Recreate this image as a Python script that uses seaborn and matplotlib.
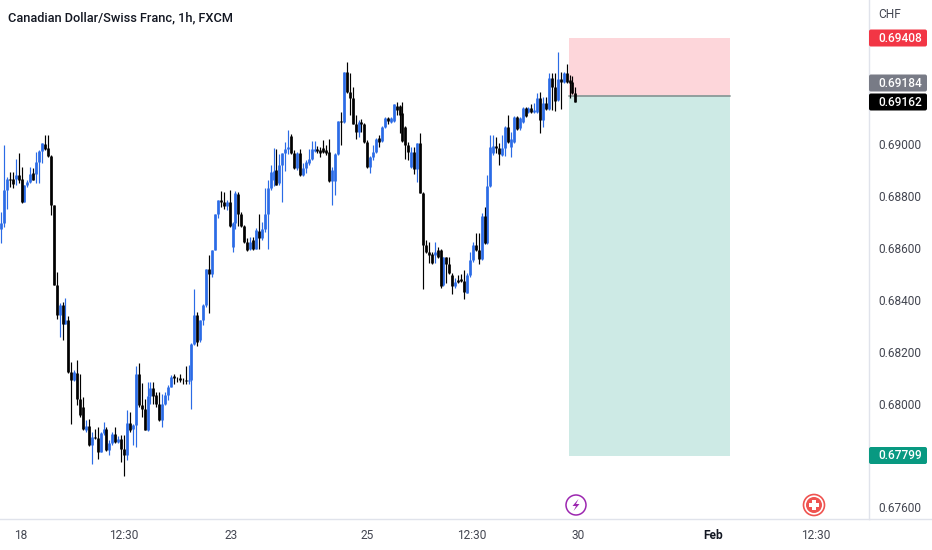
"""Candlestick chart of CAD/CHF with a short-position box."""

import matplotlib
matplotlib.use("Agg")
import matplotlib.pyplot as plt
from matplotlib.lines import Line2D
from matplotlib.patches import Circle, FancyBboxPatch, Polygon, Rectangle
import pandas as pd
import seaborn as sns

# hourly candles, prices in 1e-5 units
opens = [
    68674,68694,68822,68867,68867,68867,68880,68867,68777,68841,
    68854,68890,68886,68931,68974,69002,68983,68955,68764,68456,
    68340,68379,68308,68321,68122,68090,68119,68019,67987,67897,
    67912,67839,67871,67867,67813,67887,67903,67820,67848,67884,
    67852,67865,67826,67803,67925,67903,67916,68115,67993,67980,
    67899,68028,68058,68032,68000,67938,68000,68032,68064,68105,
    68100,68100,68092,68092,68088,68090,68231,68340,68244,68321,
    68379,68520,68501,68593,68732,68784,68777,68760,68777,68604,
    68694,68809,68732,68685,68623,68595,68630,68597,68664,68636,
    68671,68732,68829,68861,68899,68848,68919,68964,68979,69030,
    68964,68906,68964,68880,68906,68925,68944,68975,68979,68977,
    68983,68977,68970,68858,68858,68961,69090,69086,69278,69201,
    69176,69079,69047,69086,69079,69009,68910,68951,68970,69025,
    69012,69064,69099,69086,69090,69146,69146,69118,69066,68998,
    68912,68970,68902,69005,68812,68610,68585,68575,68572,68591,
    68590,68457,68563,68538,68495,68453,68476,68478,68473,68427,
    68495,68553,68611,68592,68556,68723,68617,68838,68964,68992,
    68983,68957,68983,69064,68990,69009,69103,69060,69086,69140,
    69125,69138,69125,69125,69176,69093,69159,69134,69253,69221,
    69170,69249,69240,69275,69247,69240,69195,
]
closes = [
    68694,68822,68867,68861,68845,68880,68863,68777,68841,68854,
    68886,68861,68931,68974,69005,68979,68955,68764,68456,68340,
    68379,68308,68321,68122,68090,68122,68019,67955,67903,67912,
    67839,67871,67867,67813,67887,67903,67820,67848,67884,67852,
    67865,67826,67803,67925,67897,67916,68115,67993,67980,67899,
    68028,68058,68028,68000,67938,68000,68032,68064,68103,68100,
    68099,68090,68090,68088,68092,68231,68340,68237,68321,68379,
    68520,68498,68593,68732,68784,68777,68760,68777,68683,68694,
    68812,68732,68685,68623,68591,68623,68595,68668,68636,68671,
    68732,68829,68893,68897,68844,68919,68964,68979,68990,68964,
    68906,68964,68880,68906,68932,68944,68979,68979,68973,68966,
    68970,68964,68858,68899,68961,69090,69086,69278,69201,69176,
    69079,69047,69086,69079,69009,68910,68951,68970,69021,69009,
    69064,69099,69090,69099,69154,69133,69111,69012,68998,68970,
    68970,68902,69005,68812,68610,68585,68572,68540,68585,68566,
    68454,68563,68538,68502,68453,68470,68470,68473,68431,68495,
    68553,68611,68592,68556,68723,68617,68838,68990,68992,68983,
    68962,68983,69064,69009,69020,69106,69057,69099,69138,69108,
    69138,69125,69131,69176,69093,69159,69134,69253,69221,69167,
    69249,69240,69275,69240,69237,69195,69163,
]
highs = [
    68739,68996,68874,68893,68893,68944,68964,68912,68841,68861,
    68910,68906,68970,68976,69005,69034,69034,68957,68764,68505,
    68388,68392,68405,68338,68160,68130,68167,68115,68025,67935,
    67942,67891,67903,67910,67891,67929,67910,67858,67891,67910,
    67875,67878,67878,67974,67968,67920,68144,68157,68081,68019,
    68083,68083,68083,68045,68045,68038,68045,68070,68109,68113,
    68103,68115,68100,68144,68148,68235,68441,68353,68321,68385,
    68520,68572,68593,68732,68786,68818,68816,68784,68822,68700,
    68818,68816,68739,68688,68636,68642,68640,68675,68732,68700,
    68829,68861,68919,68985,68979,68960,68964,69009,69054,69037,
    68977,68970,68979,68925,68938,68979,69012,69012,68992,68990,
    69015,68996,69021,68912,68964,69090,69122,69278,69317,69272,
    69221,69111,69092,69098,69082,69015,68953,68996,69025,69034,
    69069,69105,69105,69105,69156,69163,69150,69163,69069,69009,
    68989,68989,69005,69041,68816,68630,68623,68585,68623,68604,
    68597,68566,68566,68563,68502,68482,68495,68501,68515,68502,
    68585,68624,68656,68656,68733,68759,68881,69035,69035,69026,
    69005,69035,69070,69112,69045,69108,69108,69106,69142,69144,
    69144,69154,69157,69198,69202,69183,69183,69275,69275,69275,
    69356,69279,69279,69308,69266,69262,69221,
]
lows = [
    68617,68681,68751,68835,68829,68841,68848,68773,68777,68835,
    68848,68861,68848,68848,68925,68976,68951,68726,68456,68325,
    68257,68244,68306,68119,67923,68085,67993,67948,67897,67891,
    67835,67768,67865,67788,67813,67878,67817,67801,67839,67848,
    67848,67775,67720,67784,67891,67839,67833,67987,67948,67897,
    67894,68000,68000,67987,67932,67910,67993,68013,68064,68077,
    68083,68083,68077,68077,68077,67980,68225,68221,68237,68302,
    68372,68347,68488,68591,68713,68758,68751,68745,68681,68584,
    68674,68683,68681,68619,68588,68591,68591,68595,68597,68630,
    68662,68597,68822,68840,68842,68842,68777,68897,68960,68961,
    68902,68900,68876,68876,68887,68919,68938,68970,68964,68951,
    68966,68957,68854,68764,68803,68957,68996,69082,69198,69111,
    69077,69018,69028,69047,69005,68907,68887,68938,68964,68989,
    69009,69060,69079,69080,69086,69111,69041,69009,68944,68938,
    68906,68884,68854,68812,68443,68580,68540,68537,68540,68560,
    68447,68453,68463,68499,68422,68444,68463,68470,68401,68425,
    68489,68546,68589,68538,68553,68615,68615,68836,68958,68964,
    68919,68955,68952,69003,68951,69003,69054,69054,69082,69105,
    69118,69118,69121,69121,69041,69064,69131,69131,69131,69128,
    69167,69134,69236,69236,69176,69193,69161,
]

price_ticks = [0.69000, 0.68800, 0.68600, 0.68400, 0.68200, 0.68000, 0.67600]
time_ticks = [6.8, 42, 78.5, 125, 160.7, 197, 243, 278]
time_labels = ["18", "12:30", "23", "25", "12:30", "30", "Feb", "12:30"]

stop_price = 0.69408
entry_price = 0.69184
target_price = 0.67799
last_price = 0.69162
box_start, box_end = 193.9, 248.8

BLUE = "#2b6be6"
GRID = "#e0e3eb"
TEXT = "#434651"

frame = pd.DataFrame({"open": opens, "high": highs, "low": lows, "close": closes}) / 1e5
frame["bar"] = range(len(frame))
frame["dir"] = ["up" if c >= o else "down" for o, c in zip(frame["open"], frame["close"])]

wicks = frame.melt(id_vars=["bar", "dir"], value_vars=["high", "low"], value_name="price")
bodies = frame.melt(id_vars=["bar", "dir"], value_vars=["open", "close"], value_name="price")

sns.set_theme(style="white")
plt.rcParams["font.family"] = ["Roboto", "DejaVu Sans"]

fig = plt.figure(figsize=(9.32, 5.5), dpi=100, facecolor="white")
ax = fig.add_axes([0, 1 - 519 / 550, 869 / 932, 519 / 550])

# position tool goes under the candles
ax.add_patch(Rectangle((box_start, entry_price), box_end - box_start, stop_price - entry_price,
                       facecolor="#fdd6da", edgecolor="none", zorder=0))
ax.add_patch(Rectangle((box_start, target_price), box_end - box_start, entry_price - target_price,
                       facecolor="#cdeae5", edgecolor="none", zorder=0))
ax.plot([box_start, box_end], [entry_price, entry_price], color="#8a9a98", lw=1.3, zorder=1)

palette = {"up": BLUE, "down": "black"}
sns.lineplot(data=wicks, x="bar", y="price", hue="dir", units="bar", estimator=None, palette=palette,
             legend=False, lw=0.85, solid_capstyle="butt", ax=ax)
sns.lineplot(data=bodies, x="bar", y="price", hue="dir", units="bar", estimator=None, palette=palette,
             legend=False, lw=1.95, solid_capstyle="butt", ax=ax)

ax.set_xlim(-0.34, 296.2)
ax.set_ylim(0.67555, 0.69555)
ax.set_xlabel("")
ax.set_ylabel("")
ax.yaxis.tick_right()
ax.set_yticks(price_ticks, [f"{p:.5f}" for p in price_ticks])
ax.set_xticks(time_ticks, time_labels)
ax.tick_params(axis="y", length=0, pad=6.5, labelsize=8.6, colors=TEXT)
ax.tick_params(axis="x", length=0, pad=7.2, labelsize=8.6, colors=TEXT)
ax.get_xticklabels()[6].set_fontweight("bold")
ax.get_xticklabels()[6].set_color("#131722")
for side in ("top", "left"):
    ax.spines[side].set_visible(False)
for side in ("right", "bottom"):
    ax.spines[side].set_color(GRID)
    ax.spines[side].set_linewidth(1)

# overlay in pixel coordinates for the title, price flags and event icons
over = fig.add_axes([0, 0, 1, 1], facecolor="none")
over.set_xlim(0, 932)
over.set_ylim(550, 0)
over.axis("off")

over.add_line(Line2D([869, 932], [519, 519], color=GRID, lw=1))
over.text(8, 18, "Canadian Dollar/Swiss Franc, 1h, FXCM", fontsize=9.2, fontweight="medium",
          color="#131722", ha="left", va="center")
over.text(878, 15, "CHF", fontsize=8.6, color=TEXT, ha="left", va="center")

flags = [
    (f"{stop_price:.5f}", 38, "#f23645"),
    (f"{entry_price:.5f}", 83, "#787b86"),
    (f"{last_price:.5f}", 102, "#000000"),
    (f"{target_price:.5f}", 455.5, "#089981"),
]
for label, y, color in flags:
    over.add_patch(FancyBboxPatch((869, y - 8.5), 58, 17, boxstyle="round,pad=0,rounding_size=2",
                                  facecolor=color, edgecolor="none"))
    over.text(878, y + 0.3, label, fontsize=8.6, fontweight="medium", color="white", ha="left", va="center")

# lightning icon
over.add_patch(Circle((576, 505), 10, facecolor="white", edgecolor="#9c27b0", lw=1.1))
over.add_patch(Polygon([(578.5, 499), (572.5, 506), (576, 506), (573.5, 511), (579.5, 504), (576, 504)],
                       closed=True, facecolor="#9c27b0", edgecolor="none"))
# holiday icon
over.add_patch(Circle((814, 505), 10.5, facecolor="white", edgecolor="#ef5350", lw=1.2))
over.add_patch(Circle((814, 505), 8, facecolor="#ef5350", edgecolor="none"))
over.add_patch(Rectangle((812.2, 500), 3.6, 10, facecolor="white", edgecolor="none"))
over.add_patch(Rectangle((809, 503.2), 10, 3.6, facecolor="white", edgecolor="none"))

fig.savefig("out.png", dpi=100, facecolor="white")
